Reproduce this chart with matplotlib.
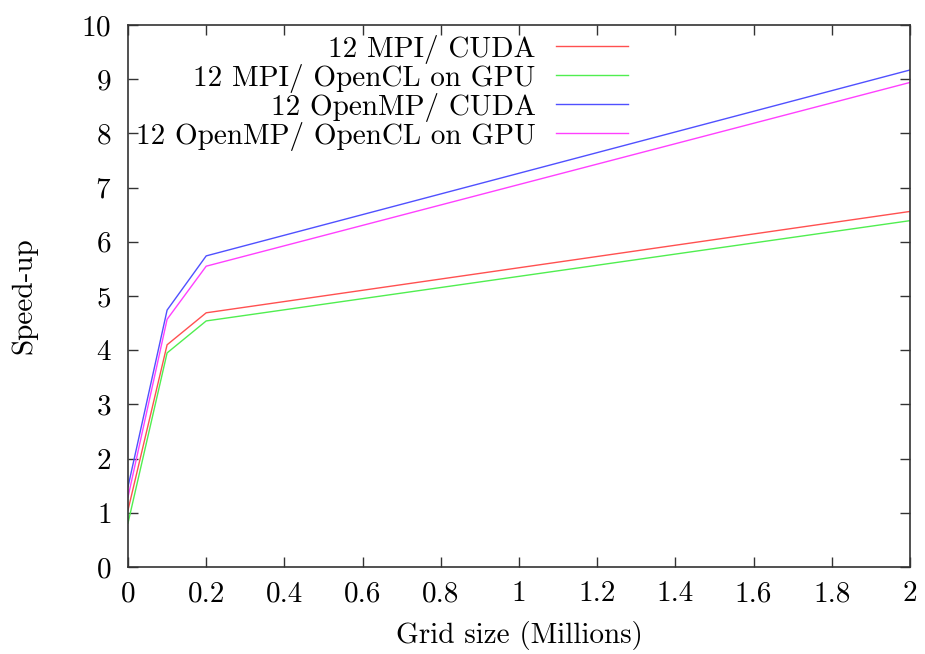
import matplotlib
matplotlib.use("Agg")
import matplotlib.pyplot as plt

plt.rcParams["font.family"] = ["cmr10", "DejaVu Serif"]
plt.rcParams["axes.formatter.use_mathtext"] = True

# grid sizes (millions) and speed-ups
grid_size = [0.0, 0.1, 0.2, 2.0]
mpi_cuda = [1.05, 4.10, 4.69, 6.56]
mpi_opencl = [0.81, 3.95, 4.54, 6.39]
omp_cuda = [1.48, 4.74, 5.74, 9.17]
omp_opencl = [1.29, 4.57, 5.55, 8.94]

series = [
    ("12 MPI/ CUDA", mpi_cuda, "#ff5050"),
    ("12 MPI/ OpenCL on GPU", mpi_opencl, "#50ee50"),
    ("12 OpenMP/ CUDA", omp_cuda, "#5050ff"),
    ("12 OpenMP/ OpenCL on GPU", omp_opencl, "#ff40ff"),
]

x_ticks = [0, 0.2, 0.4, 0.6, 0.8, 1, 1.2, 1.4, 1.6, 1.8, 2]
y_ticks = list(range(0, 11))

fig = plt.figure(figsize=(9.25, 6.54), dpi=100)
ax = fig.add_axes([128 / 925, 1 - 567 / 654, (910 - 128) / 925, (567 - 25) / 654])

for label, vals, col in series:
    ax.plot(grid_size, vals, color=col, linewidth=1.0, label=label)

ax.set_xlim(0, 2)
ax.set_ylim(0, 10)
ax.set_xticks(x_ticks)
ax.set_xticklabels([f"{t:g}" for t in x_ticks])
ax.set_yticks(y_ticks)
ax.tick_params(direction="in", length=7, width=1, top=True, right=True,
               labelsize=21, colors="#333333", labelcolor="black")
ax.tick_params(axis="x", pad=10)
ax.tick_params(axis="y", pad=12)
for s in ax.spines.values():
    s.set_linewidth(1.2)
    s.set_color("#333333")

ax.set_xlabel("Grid size (Millions)", fontsize=21, labelpad=10)
ax.set_ylabel("Speed-up", fontsize=21, labelpad=32)

# legend sits right-aligned, sample line after the text (gnuplot style)
leg = ax.legend(loc="upper right", bbox_to_anchor=((629 - 128) / 782, 0.985),
                frameon=False, fontsize=21, markerfirst=False,
                handlelength=2.45, handletextpad=0.7, labelspacing=0.0,
                borderaxespad=0.0, borderpad=0.05)
for t in leg.get_texts():
    t.set_ha("right")
leg._legend_box.align = "right"

fig.savefig("out.png", dpi=100)
